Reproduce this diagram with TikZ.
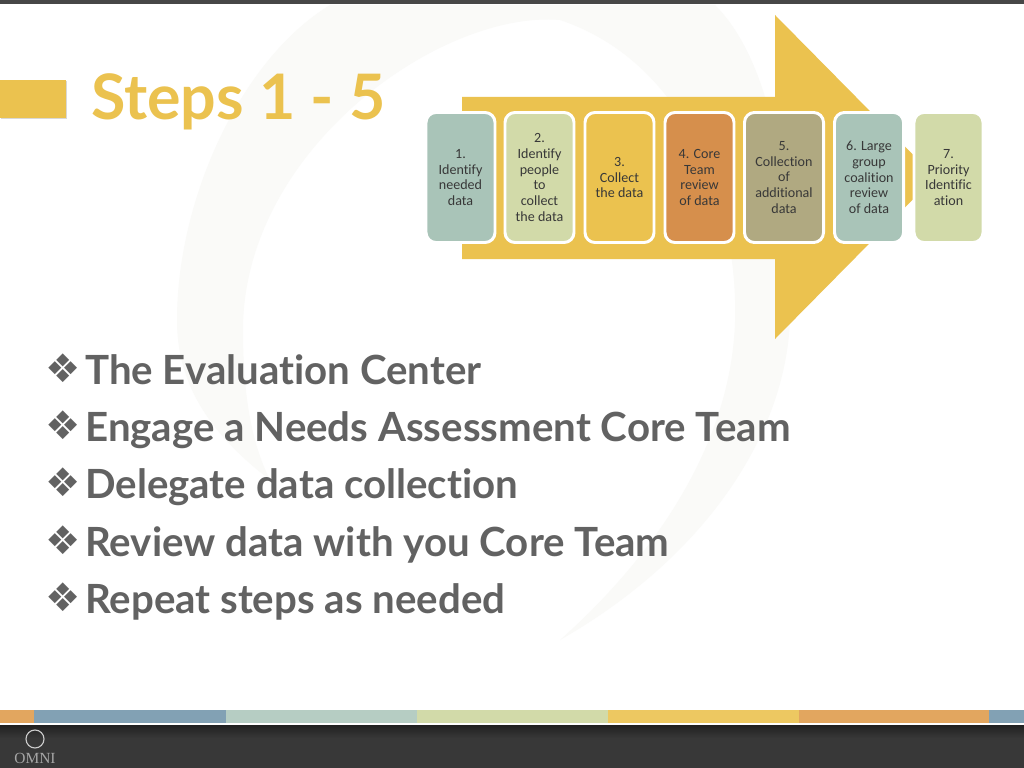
\documentclass[tikz,border=0pt]{standalone}
\usepackage{fontspec}
\setmainfont[Ligatures=NoCommon]{Carlito}
\newfontfamily\latofont[Ligatures=NoCommon]{Lato}
\newfontfamily\dejafont{DejaVu Sans}
\newfontfamily\logofont{Liberation Serif}
\usetikzlibrary{positioning, shadows, calc}

\definecolor{gold}{HTML}{EBC24F}
\definecolor{teal}{HTML}{A9C4B8}
\definecolor{sage}{HTML}{D2DAA9}
\definecolor{rust}{HTML}{D68F4C}
\definecolor{olive}{HTML}{B0A981}
\definecolor{steel}{HTML}{82A1B4}
\definecolor{peach}{HTML}{E2A65F}
\definecolor{ink}{HTML}{626262}
\definecolor{swirl}{HTML}{FAFAF8}

\begin{document}
\begin{tikzpicture}[x=0.025cm, y=-0.025cm,
    stepbox/.style={rectangle, draw=white, line width=2.1pt, rounded corners=2.5mm, minimum width=1.725cm, minimum height=3.25cm, inner sep=0pt, align=center, text=black!78, font=\fontsize{10}{11.1}\selectfont},
    bullet/.style={anchor=base west, inner sep=0pt, text=ink, font=\latofont\bfseries\fontsize{28.6}{30}\selectfont},
    diamonds/.style={anchor=base west, inner sep=0pt, text=ink, font=\dejafont\fontsize{28}{28}\selectfont}]

    \useasboundingbox (0,0) rectangle (1024,768);

    % Backdrop
    \fill[white] (0,0) rectangle (1024,768);
    \fill[swirl] (270,480) .. controls (205,430) and (177,380) .. (177,320)
        .. controls (177,200) and (240,60) .. (330,5) -- (715,5)
        .. controls (770,60) and (792,180) .. (790,320)
        .. controls (785,440) and (700,560) .. (560,640)
        .. controls (650,560) and (740,440) .. (735,300)
        .. controls (732,190) and (680,60) .. (560,20)
        .. controls (440,10) and (243,150) .. (243,330)
        .. controls (243,390) and (250,440) .. (270,480) -- cycle;

    % Top and bottom bars
    \fill[black!72] (0,0) rectangle (1024,4.5);
    \fill[black!78] (0,724) rectangle (1024,768);
    \shade[top color=black!88, bottom color=black!78] (0,724) rectangle (1024,738);
    \fill[white] (0,723) rectangle (1024,724.5);

    % Colour strip
    \fill[peach] (0,710) rectangle (34,723);
    \fill[steel] (34,710) rectangle (226,723);
    \fill[teal!85!white] (226,710) rectangle (417,723);
    \fill[sage] (417,710) rectangle (608,723);
    \fill[gold!90!white] (608,710) rectangle (799,723);
    \fill[peach] (799,710) rectangle (989,723);
    \fill[steel] (989,710) rectangle (1024,723);

    % Logo
    \draw[black!20, line width=0.8pt] (35,739) circle (9);
    \node[text=black!35, font=\logofont\fontsize{11}{11}\selectfont] (omni) at (35,758) {OMNI};

    % Title
    \fill[gold, drop shadow={shadow xshift=1pt, shadow yshift=-1pt, fill=black!30}] (0,80) rectangle (66,118);
    \node[anchor=base west, inner sep=0pt, text=gold, font=\latofont\bfseries\fontsize{44.6}{46}\selectfont] (title) at (91,119.5) {Steps 1 - 5};

    % Big arrow
    \fill[gold] (462,97) -- (775,97) -- (775,15) -- (935,177) -- (775,339) -- (775,259) -- (462,259) -- cycle;

    % Steps
    \node[stepbox, fill=teal] (s1) at (460.5,177.5) {1.\\Identify\\needed\\data};
    \node[stepbox, fill=sage] (s2) at (539.5,177.5) {2.\\Identify\\people\\to\\collect\\the data};
    \node[stepbox, fill=gold] (s3) at (619.5,177.5) {3.\\Collect\\the data};
    \node[stepbox, fill=rust] (s4) at (699.5,177.5) {4. Core\\Team\\review\\of data};
    \node[stepbox, fill=olive, minimum width=1.975cm] (s5) at (784,177.5) {5.\\Collection\\of\\additional\\data};
    \node[stepbox, fill=teal] (s6) at (869,177.5) {6. Large\\group\\coalition\\review\\of data};
    \node[stepbox, fill=sage] (s7) at (948.5,177.5) {7.\\Priority\\Identific\\ation};

    % Bullets
    \foreach \y/\txt [count=\i] in {384/The Evaluation Center, 441/Engage a Needs Assessment Core Team, 498.5/Delegate data collection, 556/Review data with you Core Team, 613/Repeat steps as needed} {
        \node[bullet] (item\i) at (85,\y) {\txt};
        \node[diamonds] (mark\i) at (45,\y-2) {❖};
    }

\end{tikzpicture}
\end{document}
